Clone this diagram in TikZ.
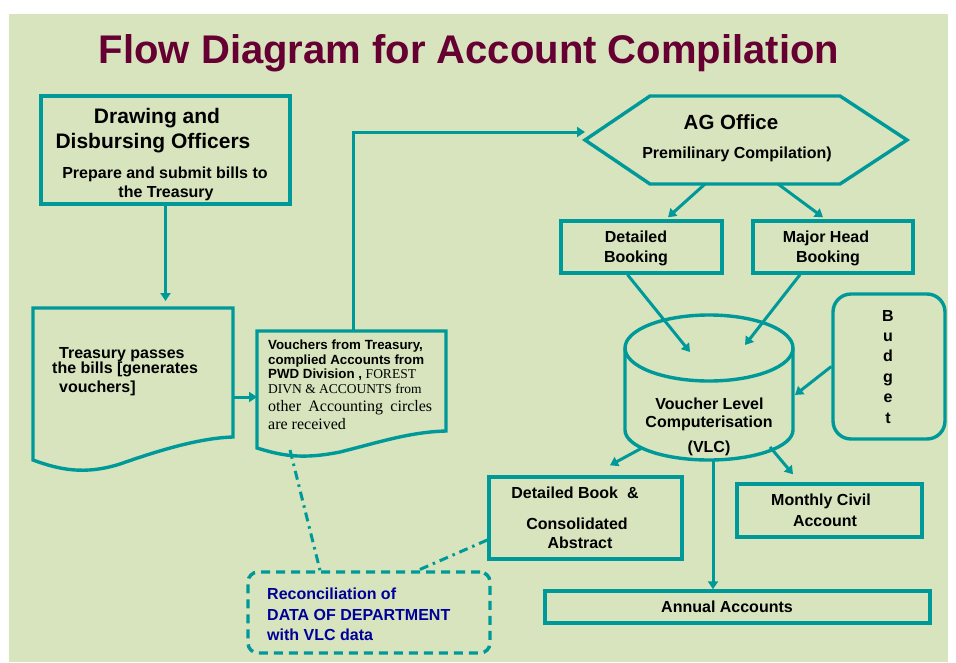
\documentclass[tikz,border=0pt]{standalone}
\usepackage{fontspec}
\setmainfont{Liberation Sans}
\newfontfamily\timesfont{Liberation Serif}
\usetikzlibrary{arrows.meta}
\definecolor{sheetbg}{HTML}{D7E4BD}
\definecolor{flowteal}{HTML}{009999}
\definecolor{titlemaroon}{HTML}{660033}
\definecolor{reconblue}{HTML}{000099}

\begin{document}
\begin{tikzpicture}[x=1pt,y=-1pt,
    box/.style n args={2}{draw=flowteal, line width=3.4pt, minimum width=#1, minimum height=#2, inner sep=0pt},
    outline/.style={draw=flowteal, line width=3.4pt, line join=miter},
    flow/.style={draw=flowteal, line width=3pt, -{Triangle[length=8pt,width=10pt]}},
    link/.style={draw=flowteal, line width=3pt, dash pattern=on 9pt off 5pt on 2.5pt off 5pt},
    lbl/.style={anchor=base, inner sep=0pt, font=\fontsize{16}{19}\selectfont\bfseries},
    lbll/.style={lbl, anchor=base west}]

    % sheet
    \useasboundingbox (0,0) rectangle (956,662);
    \fill[white] (0,0) rectangle (956,662);
    \fill[sheetbg] (9,14) rectangle (948,662);

    % title
    \node[lbl, text=titlemaroon, font=\fontsize{40}{48}\selectfont\bfseries] (title) at (469,63) {Flow Diagram for Account Compilation};

    % drawing and disbursing officers
    \node[box={249}{108}] (ddo) at (165.5,150) {};
    \node[lbl, font=\fontsize{21}{25}\selectfont\bfseries] (ddo1) at (157,123) {Drawing and};
    \node[lbl, font=\fontsize{21}{25}\selectfont\bfseries] (ddo2) at (153,148) {Disbursing Officers};
    \node[lbl] (ddo3) at (165,178) {Prepare and submit bills to};
    \node[lbl] (ddo4) at (166,197) {the Treasury};

    % treasury document
    \draw[outline] (33,308) -- (233,308) -- (233,437) .. controls (200,438) and (160,450) .. (120,464)
        .. controls (85,475) and (60,470) .. (33,460) -- cycle;
    \coordinate (trin) at (165.5,301);
    \coordinate (trout) at (233,397);
    \node[lbll] (tr1) at (59,358) {Treasury passes};
    \node[lbll] (tr2) at (52,373) {the bills [generates};
    \node[lbll] (tr3) at (59,392) {vouchers]};

    % vouchers document
    \draw[outline] (257,331) -- (446,331) -- (446,431) .. controls (410,432) and (380,442) .. (340,452)
        .. controls (300,460) and (280,455) .. (257,448) -- cycle;
    \coordinate (vin) at (257,397);
    \coordinate (vtop) at (353,331);
    \coordinate (vbot) at (290,450);
    \foreach \yy/\txt [count=\k] in {
        349/{\fontsize{13.3}{15}\selectfont Vouchers from Treasury,},
        364/{\fontsize{13.3}{15}\selectfont complied Accounts from},
        378/{\fontsize{13.3}{15}\selectfont PWD Division , \timesfont\mdseries\fontsize{13.5}{15}\selectfont FOREST},
        393/{\timesfont\mdseries\fontsize{13.5}{15}\selectfont DIVN \& ACCOUNTS from},
        411/{\timesfont\mdseries\fontsize{16}{18}\selectfont\makebox[164pt][s]{other Accounting circles}},
        429/{\timesfont\mdseries\fontsize{16}{18}\selectfont are received}}
        \node[lbll] (vt\k) at (268,\yy) {\txt};

    % AG office
    \draw[outline] (585,140) -- (650,96) -- (840,96) -- (907,140) -- (840,184) -- (650,184) -- cycle;
    \coordinate (agin) at (585,132);
    \coordinate (agl) at (705,184);
    \coordinate (agr) at (778,184);
    \node[lbl, font=\fontsize{20.5}{24}\selectfont\bfseries] (ag1) at (731,129) {AG Office};
    \node[lbl] (ag2) at (737,158) {Premilinary Compilation)};

    % bookings
    \node[box={161}{52}] (db) at (641.5,247) {};
    \node[lbl] (db1) at (636,242) {Detailed};
    \node[lbl] (db2) at (636,262) {Booking};
    \node[box={160}{52}] (mh) at (833,247) {};
    \node[lbl] (mh1) at (826,242) {Major Head};
    \node[lbl] (mh2) at (828,262) {Booking};

    % VLC cylinder
    \draw[outline] (709,348) ellipse [x radius=84, y radius=33];
    \draw[outline] (625,348) -- (625,430) arc[start angle=180, end angle=0, x radius=84, y radius=30] -- (793,348);
    \coordinate (vlcl) at (690,352);
    \coordinate (vlcr) at (745,345);
    \coordinate (vlcb) at (795,395);
    \coordinate (vlco1) at (642,448);
    \coordinate (vlco2) at (770,447);
    \coordinate (vlco3) at (713,460);
    \node[lbl] (vlc1) at (709.5,409) {Voucher Level};
    \node[lbl] (vlc2) at (709,427) {Computerisation};
    \node[lbl] (vlc3) at (709,452) {(VLC)};

    % budget
    \node[box={112}{145}, rounded corners=18pt] (budget) at (889,366.5) {};
    \foreach \ch [count=\k] in {B,u,d,g,e,t}
        \node[lbl] (bud\k) at (888,{321+20.4*(\k-1)}) {\ch};

    % outputs
    \node[box={193}{82}] (dbk) at (585.5,518) {};
    \node[lbl] (dbk1) at (575,498) {Detailed Book\ \ \&};
    \node[lbl] (dbk2) at (577,529) {Consolidated};
    \node[lbl] (dbk3) at (580,548) {Abstract};
    \node[box={185}{53}] (mca) at (829.5,510.5) {};
    \node[lbl] (mca1) at (821,505) {Monthly Civil};
    \node[lbl] (mca2) at (825,526) {Account};
    \node[box={385}{32}] (aa) at (737.5,607) {};
    \node[lbl] (aa1) at (727,612) {Annual Accounts};

    % reconciliation
    \node[box={242}{81}, dash pattern=on 9pt off 6pt, rounded corners=10pt] (recon) at (369,612.5) {};
    \node[lbll, text=reconblue] (rc1) at (267,599) {Reconciliation of};
    \node[lbll, text=reconblue] (rc2) at (267,620) {DATA OF DEPARTMENT};
    \node[lbll, text=reconblue] (rc3) at (267,640) {with VLC data};

    % arrows
    \draw[flow] (ddo.south) -- (trin);
    \draw[flow] (trout) -- (vin);
    \draw[flow] (vtop) |- (agin);
    \draw[flow] (agl) -- ([xshift=26.5pt,yshift=2pt]db.north);
    \draw[flow] (agr) -- ([xshift=-10pt,yshift=2pt]mh.north);
    \draw[flow] ([xshift=-14pt]db.south) -- (vlcl);
    \draw[flow] ([xshift=-33pt]mh.south) -- (vlcr);
    \draw[flow] (budget.west) -- (vlcb);
    \draw[flow] (vlco1) -- ([xshift=24.5pt,yshift=10pt]dbk.north);
    \draw[flow] (vlco2) -- ([xshift=-36.5pt,yshift=8pt]mca.north);
    \draw[flow] (vlco3) -- ([xshift=-24.5pt]aa.north);

    % reconciliation links
    \draw[link] (vbot) -- ([xshift=-49pt]recon.north);
    \draw[link] ([yshift=-22pt]dbk.west) -- ([xshift=49pt]recon.north);
\end{tikzpicture}
\end{document}
